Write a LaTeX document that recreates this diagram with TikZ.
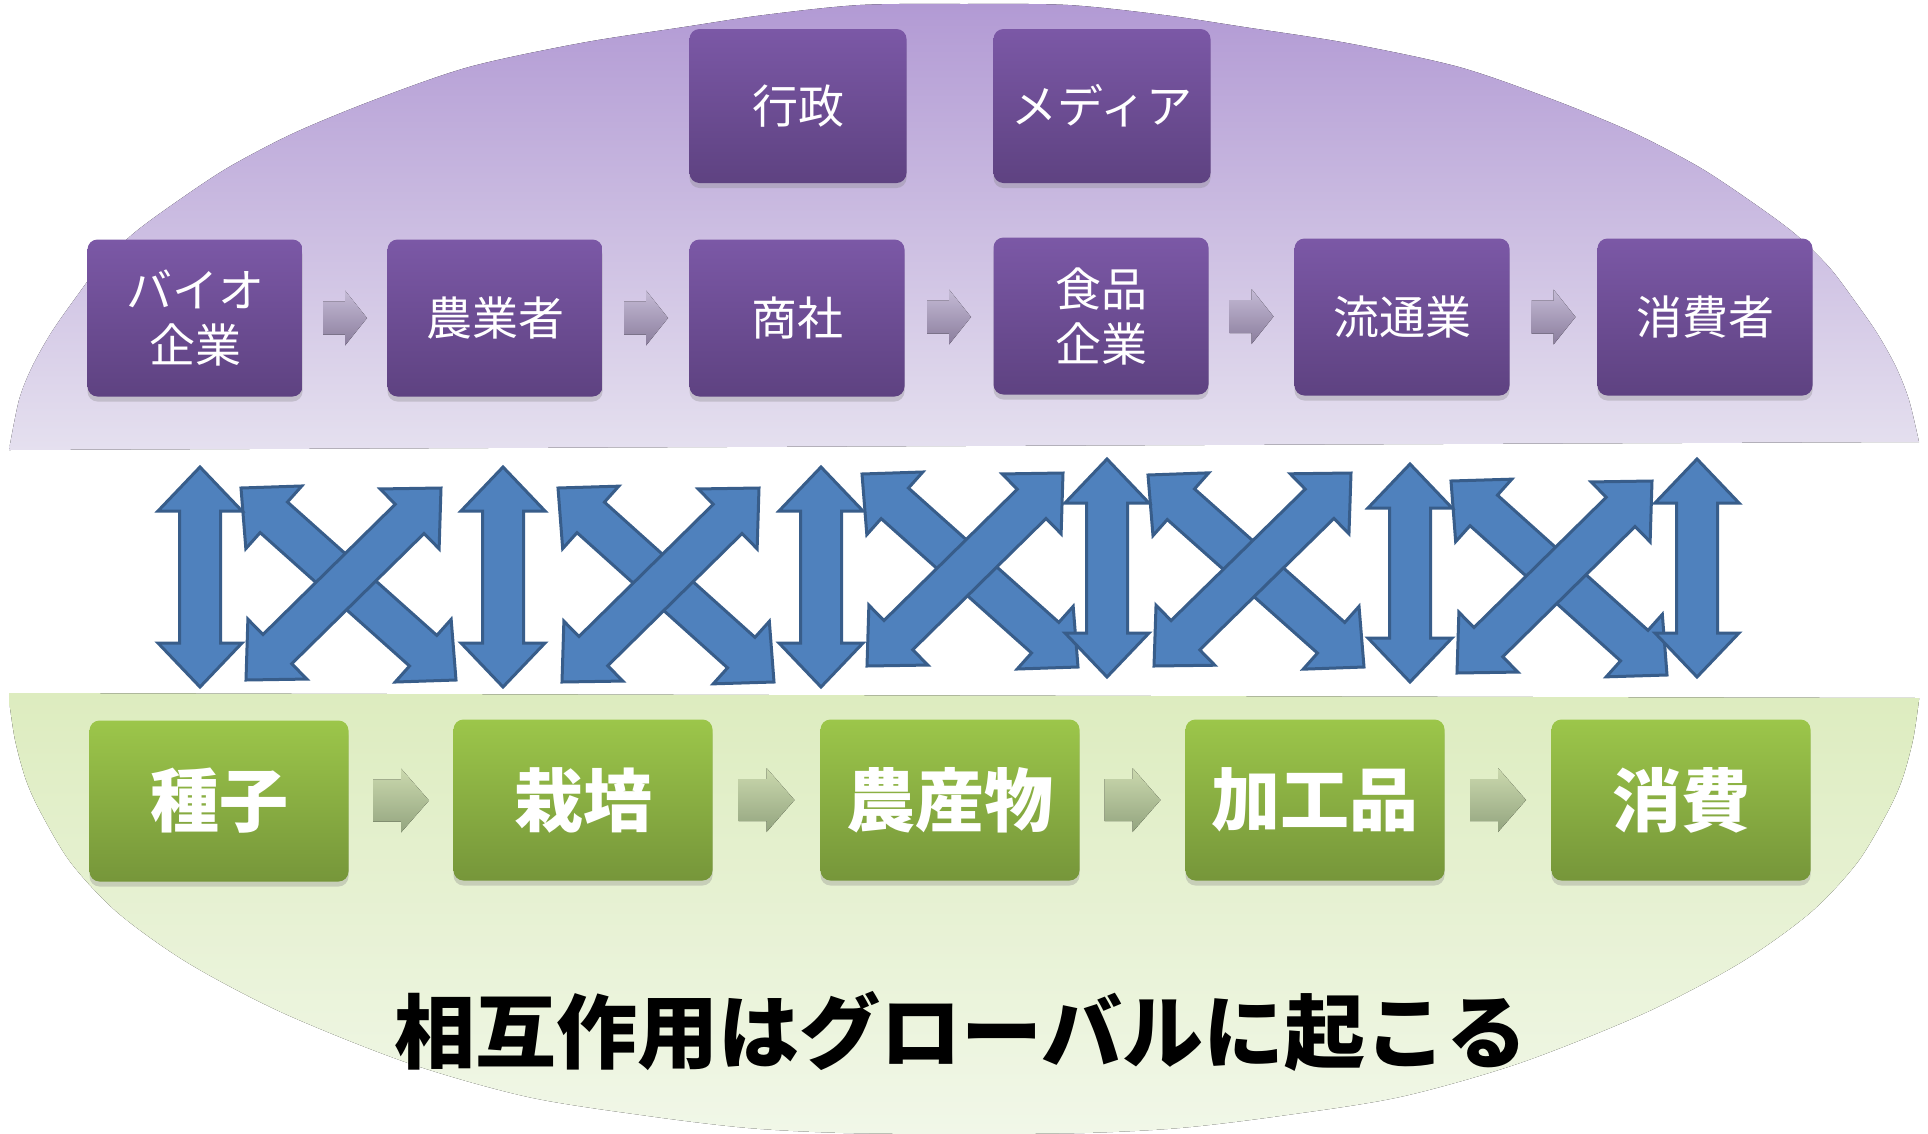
\documentclass[tikz,border=0pt]{standalone}
\usepackage{fontspec}
\newfontfamily\jpfont{Noto Sans CJK JP}
\usetikzlibrary{calc,shadows}
\definecolor{purTop}{HTML}{B29AD4}
\definecolor{purBot}{HTML}{E5E0EF}
\definecolor{grnTop}{HTML}{DDECBF}
\definecolor{grnBot}{HTML}{F1F7E8}
\definecolor{boxPTop}{HTML}{7B58A6}
\definecolor{boxPBot}{HTML}{5E4281}
\definecolor{boxGTop}{HTML}{9CC64A}
\definecolor{boxGBot}{HTML}{76963A}
\definecolor{arrFill}{HTML}{4F81BD}
\definecolor{arrLine}{HTML}{385D8A}
\definecolor{parTop}{HTML}{C5BBD6}
\definecolor{parBot}{HTML}{8A7D9C}
\definecolor{garTop}{HTML}{CBD9AE}
\definecolor{garBot}{HTML}{93A47F}

\newcommand\dblarrow[2]{%
  \coordinate (dA) at #1; \coordinate (dB) at #2;
  \coordinate (dH1) at ($(dA)!44pt!(dB)$);
  \coordinate (dH2) at ($(dB)!44pt!(dA)$);
  \filldraw[bluearrow] (dA) -- ($(dH1)!42pt!90:(dB)$) -- ($(dH1)!20.5pt!90:(dB)$)
    -- ($(dH2)!20.5pt!-90:(dA)$) -- ($(dH2)!42pt!-90:(dA)$) -- (dB)
    -- ($(dH2)!42pt!90:(dA)$) -- ($(dH2)!20.5pt!90:(dA)$)
    -- ($(dH1)!20.5pt!-90:(dB)$) -- ($(dH1)!42pt!-90:(dB)$) -- cycle;
}
\newcommand\parrowat[1]{%
  \fill[top color=parTop, bottom color=parBot] ($(#1)+(-22,-16.5)$) -- ($(#1)+(0,-16.5)$) -- ($(#1)+(0,-27.5)$)
    -- ($(#1)+(22,0)$) -- ($(#1)+(0,27.5)$) -- ($(#1)+(0,16.5)$) -- ($(#1)+(-22,16.5)$) -- cycle;
}
\newcommand\garrowat[1]{%
  \fill[top color=garTop, bottom color=garBot] ($(#1)+(-28,-21)$) -- ($(#1)+(0,-21)$) -- ($(#1)+(0,-32)$)
    -- ($(#1)+(28,0)$) -- ($(#1)+(0,32)$) -- ($(#1)+(0,21)$) -- ($(#1)+(-28,21)$) -- cycle;
}

\begin{document}
\begin{tikzpicture}[x=1pt,y=-1pt,
  bluearrow/.style={fill=arrFill, draw=arrLine, line width=3pt, line join=miter},
  pbox/.style={rounded corners=10pt, minimum width=215pt, minimum height=157pt, inner sep=0pt,
    top color=boxPTop, bottom color=boxPBot, text=white, align=center,
    font=\jpfont\fontsize{46}{55}\selectfont,
    drop shadow={shadow xshift=0pt, shadow yshift=-5pt, opacity=0.3}},
  gbox/.style={rounded corners=10pt, minimum width=259pt, minimum height=161pt, inner sep=0pt,
    top color=boxGTop, bottom color=boxGBot, text=white, align=center,
    font=\jpfont\bfseries\fontsize{69}{80}\selectfont,
    drop shadow={shadow xshift=0pt, shadow yshift=-5pt, opacity=0.3}}
]
\useasboundingbox (0,0) rectangle (1928,1133);
\fill[white] (0,0) rectangle (1928,1133);

\begin{scope}
\clip (9,0) rectangle (1919,1133);
% purple upper region
\fill[top color=purTop, bottom color=purBot] (9,450) -- plot[smooth] coordinates {(9,450) (19,400) (32,367) (51,333) (74,300) (99,267) (134,233) (179,200) (229,167) (294,133) (374,100) (469,67) (581,43) (684,27) (764,15) (860,5) (964,4) (1068,5) (1164,15) (1244,27) (1347,43) (1459,67) (1554,100) (1634,133) (1699,167) (1749,200) (1794,233) (1829,267) (1854,300) (1877,333) (1896,367) (1909,400) (1919,442)} -- cycle;
% green lower region
\fill[top color=grnTop, bottom color=grnBot] (9,693) -- (1919,698) -- plot[smooth] coordinates {(1919,700) (1913,740) (1902,780) (1887,813) (1857,863) (1810,913) (1740,963) (1645,1013) (1520,1063) (1400,1097) (1280,1116) (1180,1128) (1084,1133) (964,1134) (844,1133) (748,1128) (648,1116) (528,1097) (408,1063) (283,1013) (188,963) (118,913) (71,863) (41,813) (26,780) (15,740) (9,700)} -- cycle;
\end{scope}

% purple boxes
\node[pbox, minimum height=154pt, minimum width=217pt] (gyosei) at (798,106) {行政};
\node[pbox, minimum height=154pt, minimum width=217pt] (media) at (1102,106) {メディア};
\node[pbox] (bio) at (195,318) {バイオ\\企業};
\node[pbox] (nogyo) at (495,318) {農業者};
\node[pbox] (shosha) at (797,318) {商社};
\node[pbox] (shokuhin) at (1101,316) {食品\\企業};
\node[pbox] (ryutsu) at (1402,317) {流通業};
\node[pbox] (shohisha) at (1705,317) {消費者};

% green boxes
\node[gbox] (shushi) at (219,801) {種子};
\node[gbox] (saibai) at (583,800) {栽培};
\node[gbox] (nosanbutsu) at (950,800) {農産物};
\node[gbox] (kakohin) at (1315,800) {加工品};
\node[gbox] (shohi) at (1681,800) {消費};

% small purple arrows
\coordinate (pa1) at ($(bio.east)!0.5!(nogyo.west)$);
\coordinate (pa2) at ($(nogyo.east)!0.5!(shosha.west)$);
\coordinate (pa3) at ($(shosha.east)!0.5!(shokuhin.west)$);
\coordinate (pa4) at ($(shokuhin.east)!0.5!(ryutsu.west)$);
\coordinate (pa5) at ($(ryutsu.east)!0.5!(shohisha.west)$);
\foreach \c in {pa1,pa2,pa3,pa4,pa5} {\parrowat{\c}}

% small green arrows
\coordinate (ga1) at ($(shushi.east)!0.5!(saibai.west)$);
\coordinate (ga2) at ($(saibai.east)!0.5!(nosanbutsu.west)$);
\coordinate (ga3) at ($(nosanbutsu.east)!0.5!(kakohin.west)$);
\coordinate (ga4) at ($(kakohin.east)!0.5!(shohi.west)$);
\foreach \c in {ga1,ga2,ga3,ga4} {\garrowat{\c}}

% blue crossing double arrows
\dblarrow{(241,488)}{(456,680)}
\dblarrow{(441,488)}{(246,680)}
\dblarrow{(558,488)}{(774,682)}
\dblarrow{(759,488)}{(562,682)}
\dblarrow{(862,474)}{(1078,667)}
\dblarrow{(1063,473)}{(867,666)}
\dblarrow{(1148,475)}{(1364,667)}
\dblarrow{(1351,473)}{(1154,666)}
\dblarrow{(1451,481)}{(1667,675)}
\dblarrow{(1652,481)}{(1457,673)}
% blue vertical double arrows
\dblarrow{(200,467)}{(200,687)}
\dblarrow{(503,467)}{(503,687)}
\dblarrow{(821,467)}{(821,687)}
\dblarrow{(1107,459)}{(1107,677)}
\dblarrow{(1410,464)}{(1410,682)}
\dblarrow{(1697,459)}{(1697,677)}

% caption
\node[font=\jpfont\bfseries\fontsize{81}{90}\selectfont, inner sep=0pt] (caption) at (961,1031) {相互作用はグローバルに起こる};
\end{tikzpicture}
\end{document}
